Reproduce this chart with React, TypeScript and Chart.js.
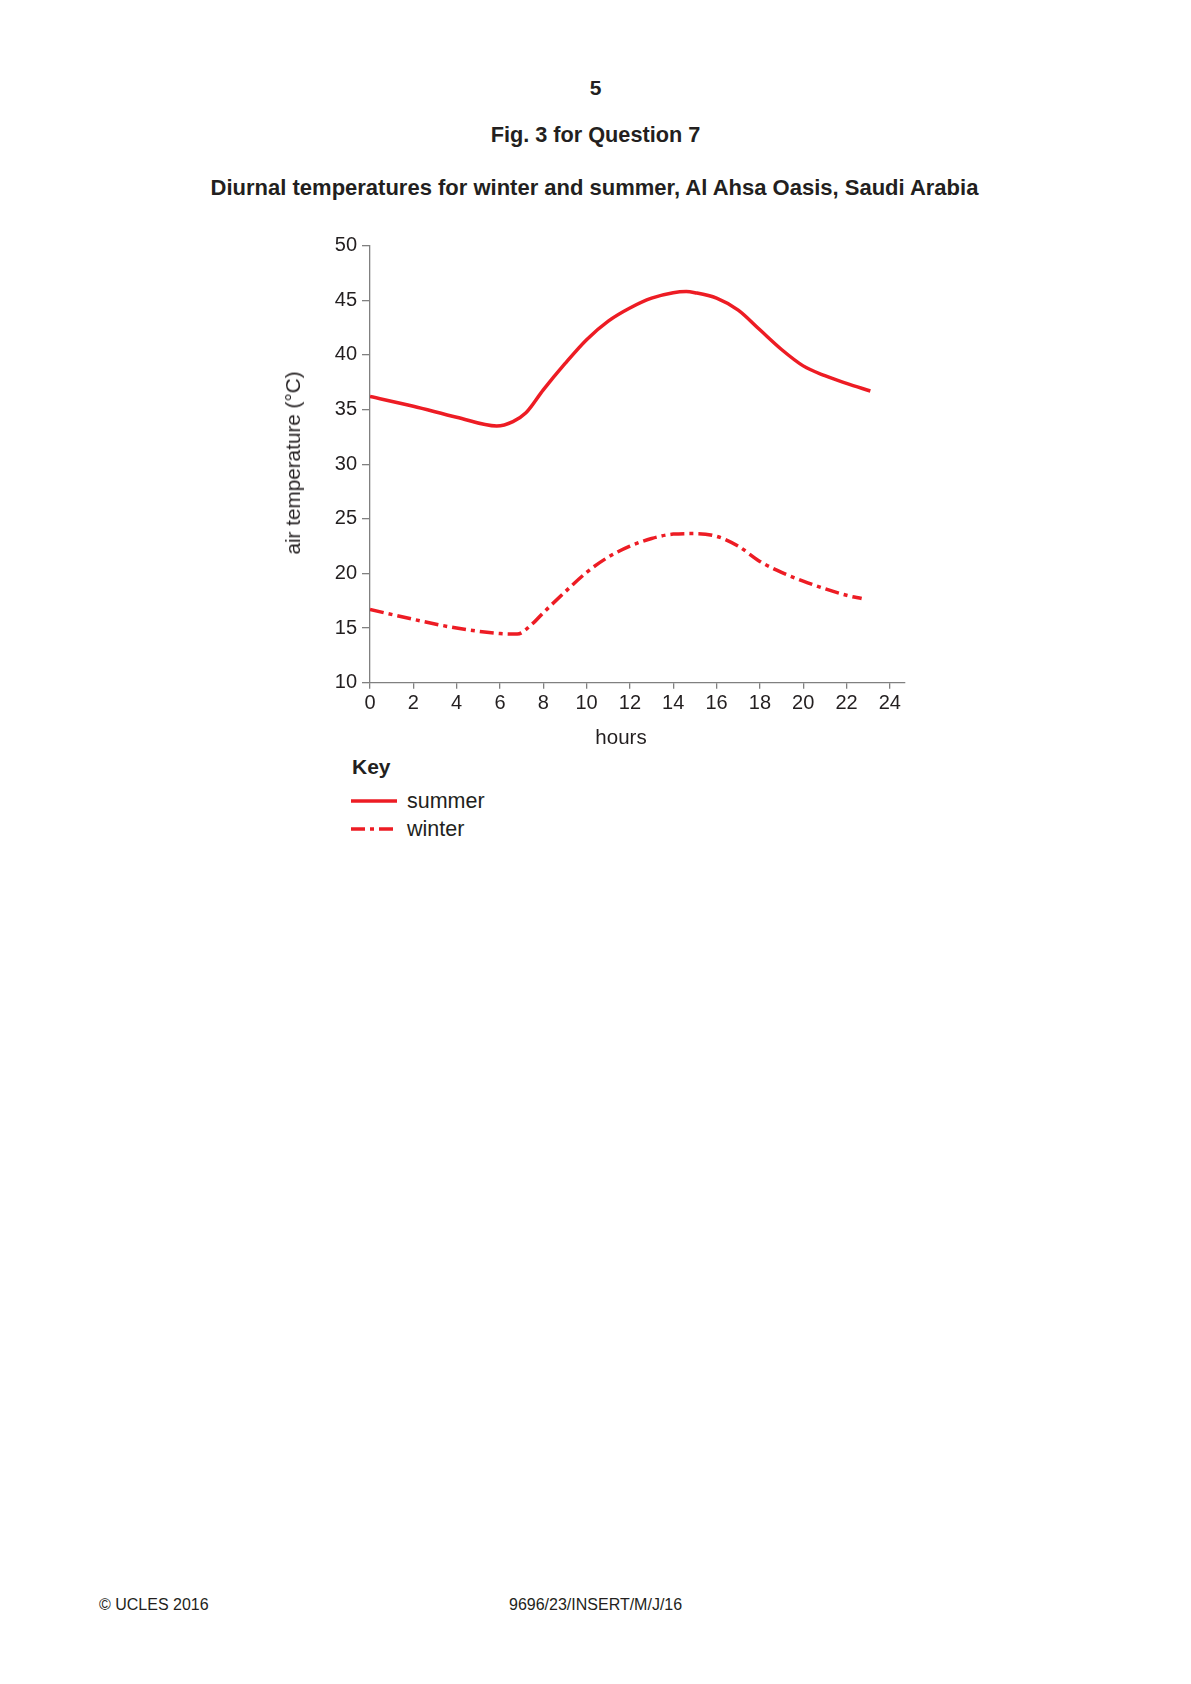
import React, { useEffect, useRef } from "react";
import { Chart, registerables } from "chart.js";

Chart.register(...registerables);

const summerHours = [0, 2, 4, 5.85, 6.6, 7.2, 8, 9, 10, 11, 12, 13, 14, 14.6, 15, 16, 17, 18, 19, 20, 21, 22, 23.1];
const summerTemps = [36.2, 35.3, 34.3, 33.5, 33.9, 34.7, 36.8, 39.2, 41.4, 43.1, 44.3, 45.2, 45.7, 45.8, 45.7, 45.2, 44.1, 42.3, 40.5, 39.0, 38.1, 37.4, 36.7];

const winterHours = [0, 2, 4, 6, 6.8, 7.5, 8, 9, 10, 11, 12, 13, 14, 15, 16, 17, 18, 19, 20, 21, 22, 22.7];
const winterTemps = [16.7, 15.8, 15.0, 14.5, 14.45, 15.4, 16.4, 18.3, 20.1, 21.5, 22.5, 23.2, 23.6, 23.65, 23.4, 22.5, 21.1, 20.1, 19.3, 18.6, 18.0, 17.7];

const xTickLabels = [0, 2, 4, 6, 8, 10, 12, 14, 16, 18, 20, 22, 24];
const yTickLabels = [10, 15, 20, 25, 30, 35, 40, 45, 50];

const RED = "#ed1c24";
const AXIS = "#808080";
const TEXT = "#231f20";
const FONT = "'Liberation Sans', Arial, Helvetica, sans-serif";

export default function App() {
  const ref = useRef<HTMLCanvasElement | null>(null);

  useEffect(() => {
    if (!ref.current) return;
    const chart = new Chart(ref.current, {
      type: "line",
      data: {
        datasets: [
          {
            label: "summer",
            data: summerHours.map((h, i) => ({ x: h, y: summerTemps[i] })),
            borderColor: RED,
            borderWidth: 3.5,
            pointRadius: 0,
            cubicInterpolationMode: "monotone",
            fill: false,
          },
          {
            label: "winter",
            data: winterHours.map((h, i) => ({ x: h, y: winterTemps[i] })),
            borderColor: RED,
            borderWidth: 3.5,
            borderDash: [14, 5, 4, 5],
            pointRadius: 0,
            cubicInterpolationMode: "monotone",
            fill: false,
          },
        ],
      },
      options: {
        responsive: false,
        animation: false,
        layout: { padding: { left: 0, top: 25.7, right: 35, bottom: 17.3 } },
        plugins: { legend: { display: false }, tooltip: { enabled: false }, title: { display: false } },
        scales: {
          x: {
            type: "linear",
            min: 0,
            max: 24.7,
            afterBuildTicks: (s: any) => {
              s.ticks = xTickLabels.map((v) => ({ value: v }));
            },
            afterFit: (s: any) => {
              s.height = 40;
            },
            grid: { display: true, drawOnChartArea: false, drawTicks: true, tickLength: 6, color: AXIS, lineWidth: 1.3 },
            border: { display: true, color: AXIS, width: 1.3 },
            ticks: { padding: 3, color: TEXT, font: { family: FONT, size: 20 }, maxRotation: 0, autoSkip: false },
          },
          y: {
            type: "linear",
            min: 10,
            max: 50,
            afterBuildTicks: (s: any) => {
              s.ticks = yTickLabels.map((v) => ({ value: v }));
            },
            afterFit: (s: any) => {
              s.width = 70;
            },
            grid: { display: true, drawOnChartArea: false, drawTicks: true, tickLength: 8, color: AXIS, lineWidth: 1.3 },
            border: { display: true, color: AXIS, width: 1.3 },
            ticks: { padding: 5, color: TEXT, font: { family: FONT, size: 20 } },
          },
        },
      },
    });
    return () => chart.destroy();
  }, []);

  const abs = (extra: React.CSSProperties): React.CSSProperties => ({
    position: "absolute",
    whiteSpace: "nowrap",
    color: TEXT,
    fontFamily: FONT,
    ...extra,
  });

  return (
    <div style={{ position: "absolute", left: 0, top: 0, width: 1191, height: 1684, background: "#fff", fontFamily: FONT }}>
      <div style={abs({ left: 0, width: 1191, textAlign: "center", top: 76, fontSize: 21, lineHeight: "24px", fontWeight: "bold" })}>5</div>
      <div style={abs({ left: 0, width: 1191, textAlign: "center", top: 123, fontSize: 21.7, lineHeight: "24px", fontWeight: "bold" })}>
        Fig. 3 for Question 7
      </div>
      <div style={abs({ left: 0, width: 1189, textAlign: "center", top: 176, fontSize: 22, lineHeight: "24px", fontWeight: "bold" })}>
        Diurnal temperatures for winter and summer, Al Ahsa Oasis, Saudi Arabia
      </div>

      <canvas ref={ref} width={640} height={520} style={{ position: "absolute", left: 300, top: 220, width: 640, height: 520 }} />

      <div
        style={abs({
          left: 293,
          top: 463,
          fontSize: 20.7,
          lineHeight: "24px",
          transform: "translate(-50%, -50%) rotate(-90deg)",
        })}
      >
        air temperature (°C)
      </div>
      <div style={abs({ left: 621, top: 737, fontSize: 20.5, lineHeight: "24px", transform: "translate(-50%, -50%)" })}>hours</div>

      <div style={abs({ left: 352, top: 755, fontSize: 21, lineHeight: "24px", fontWeight: "bold" })}>Key</div>
      <svg style={{ position: "absolute", left: 345, top: 790, width: 60, height: 50 }} width={60} height={50}>
        <line x1={6} y1={11} x2={52} y2={11} stroke={RED} strokeWidth={3.5} />
        <line x1={6} y1={39} x2={52} y2={39} stroke={RED} strokeWidth={3.5} strokeDasharray="14 5 4 5" />
      </svg>
      <div style={abs({ left: 407, top: 789, fontSize: 21.5, lineHeight: "24px" })}>summer</div>
      <div style={abs({ left: 407, top: 817, fontSize: 21.5, lineHeight: "24px" })}>winter</div>

      <div style={abs({ left: 99, top: 1595, fontSize: 16, lineHeight: "20px" })}>© UCLES 2016</div>
      <div style={abs({ left: 509, top: 1595, fontSize: 16, lineHeight: "20px" })}>9696/23/INSERT/M/J/16</div>
    </div>
  );
}
